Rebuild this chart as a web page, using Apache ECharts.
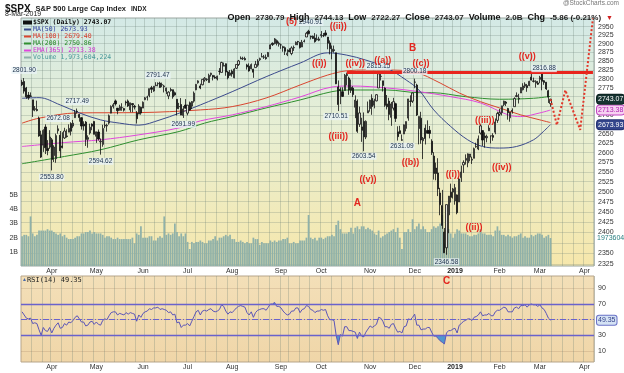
<!DOCTYPE html>
<html><head><meta charset="utf-8">
<script src="https://cdn.jsdelivr.net/npm/echarts@6/dist/echarts.min.js"></script>
<style>html,body{margin:0;padding:0;background:#fff}#c{width:624px;height:373px}</style>
</head><body><div id="c"></div>
<script>
// rows: [date, open, high, low, close, volume (billions), RSI(14)]
const mar18 = [
["2018-03-12",2790.5,2796.98,2779.26,2783.02,2.1,60],["2018-03-13",2792.3,2801.90,2758.68,2765.31,2.2,56],
["2018-03-14",2774.1,2777.11,2744.38,2749.48,2.2,52],["2018-03-15",2754.3,2763.03,2741.47,2747.33,2.1,51],
["2018-03-16",2750.6,2761.85,2749.97,2752.01,3.5,52],["2018-03-19",2741.4,2741.38,2694.59,2712.92,2.3,45],
["2018-03-20",2715.1,2724.22,2710.05,2716.94,2.1,46],["2018-03-21",2714.9,2739.14,2709.79,2711.93,2.2,45],
["2018-03-22",2691.4,2695.68,2641.59,2643.69,2.5,37],["2018-03-23",2646.7,2657.67,2585.89,2588.26,2.5,30],
["2018-03-26",2619.4,2661.36,2601.81,2658.55,2.5,40],["2018-03-27",2667.6,2674.78,2596.12,2612.62,2.5,36],
["2018-03-28",2611.3,2632.65,2593.06,2605.00,2.6,35],["2018-03-29",2614.4,2659.07,2609.72,2640.87,2.5,40]];
const apr18 = [
["2018-04-02",2633.5,2638.30,2553.80,2581.88,2.5,33],["2018-04-03",2592.2,2619.14,2575.49,2614.45,2.4,39],
["2018-04-04",2584.0,2649.86,2573.61,2644.69,2.3,43],["2018-04-05",2657.4,2672.08,2649.58,2662.84,2.2,46],
["2018-04-06",2645.8,2656.88,2586.27,2604.47,2.3,39],["2018-04-09",2617.2,2653.55,2610.79,2613.16,2.1,40],
["2018-04-10",2638.4,2665.45,2635.78,2656.87,2.2,45],["2018-04-11",2643.9,2661.43,2639.25,2642.19,2.0,43],
["2018-04-12",2653.8,2674.72,2653.83,2663.99,1.9,47],["2018-04-13",2676.9,2680.26,2645.05,2656.30,1.9,46],
["2018-04-16",2670.1,2686.49,2665.16,2677.84,1.9,49],["2018-04-17",2692.7,2713.34,2692.05,2706.39,2.0,53],
["2018-04-18",2710.1,2717.49,2703.63,2708.64,2.1,55],["2018-04-19",2701.2,2702.84,2681.90,2693.13,2.1,51],
["2018-04-20",2692.6,2693.94,2660.61,2670.14,2.3,47],["2018-04-23",2675.4,2682.86,2657.99,2670.29,2.3,47],
["2018-04-24",2680.8,2683.55,2617.32,2634.56,2.4,42],["2018-04-25",2634.9,2645.30,2612.67,2639.40,2.4,43],
["2018-04-26",2651.7,2676.48,2647.16,2666.94,2.5,47],["2018-04-27",2675.5,2677.35,2659.01,2669.91,2.3,48],
["2018-04-30",2682.5,2682.87,2648.04,2648.05,2.4,44]];
const may18 = [
["2018-05-01",2642.9,2655.27,2625.41,2654.80,2.3,47],["2018-05-02",2654.2,2660.87,2631.70,2635.67,2.3,44],
["2018-05-03",2628.1,2637.14,2594.62,2629.73,2.3,43],["2018-05-04",2621.4,2673.61,2615.32,2663.42,2.2,49],
["2018-05-07",2670.3,2683.35,2664.70,2672.63,2.0,51],["2018-05-08",2670.3,2676.34,2655.20,2671.92,2.1,50],
["2018-05-09",2678.1,2701.27,2674.14,2697.79,2.1,55],["2018-05-10",2705.0,2726.11,2704.54,2723.07,2.0,59],
["2018-05-11",2722.7,2732.86,2717.45,2727.72,1.9,60],["2018-05-14",2738.3,2742.10,2725.47,2730.13,1.9,60],
["2018-05-15",2718.6,2718.59,2701.91,2711.45,2.0,56],["2018-05-16",2712.6,2727.76,2712.17,2722.46,1.9,58],
["2018-05-17",2719.7,2731.96,2711.36,2720.13,1.9,57],["2018-05-18",2717.4,2719.50,2709.18,2712.97,1.9,56],
["2018-05-21",2735.4,2739.19,2725.70,2733.01,1.9,59],["2018-05-22",2738.3,2742.24,2721.88,2724.44,1.9,57],
["2018-05-23",2713.9,2733.33,2707.38,2733.29,1.9,59],["2018-05-24",2730.9,2731.97,2707.38,2727.76,2.0,58],
["2018-05-25",2723.6,2727.36,2714.99,2721.33,1.6,57],["2018-05-29",2705.1,2710.67,2676.81,2689.86,2.3,48],
["2018-05-30",2702.4,2729.34,2702.43,2724.01,2.2,56],["2018-05-31",2720.9,2722.50,2700.68,2705.27,2.8,53]];
const jun18 = [
["2018-06-01",2718.7,2736.93,2718.70,2734.62,2.0,58],["2018-06-04",2741.7,2749.16,2740.54,2746.87,2.0,60],
["2018-06-05",2748.5,2752.61,2739.51,2748.80,2.0,61],["2018-06-06",2753.3,2772.39,2748.46,2772.35,2.1,64],
["2018-06-07",2774.8,2779.90,2760.16,2770.37,2.1,63],["2018-06-08",2765.8,2779.39,2763.59,2779.03,1.8,65],
["2018-06-11",2780.2,2790.21,2779.26,2782.00,1.8,65],["2018-06-12",2785.6,2789.80,2778.78,2786.85,2.0,66],
["2018-06-13",2787.9,2791.47,2774.65,2775.63,2.1,63],["2018-06-14",2783.2,2789.06,2776.52,2782.49,2.0,64],
["2018-06-15",2777.8,2782.81,2761.73,2779.66,3.5,63],["2018-06-18",2765.8,2774.99,2757.12,2773.75,2.2,62],
["2018-06-19",2752.0,2765.05,2743.19,2762.59,2.3,59],["2018-06-20",2769.7,2774.86,2763.91,2767.32,2.2,60],
["2018-06-21",2769.3,2769.28,2744.39,2749.76,2.3,56],["2018-06-22",2760.8,2764.17,2752.68,2754.88,3.0,57],
["2018-06-25",2742.9,2742.94,2698.67,2717.07,2.4,46],["2018-06-26",2722.1,2732.91,2715.60,2723.06,2.1,47],
["2018-06-27",2728.5,2746.09,2699.38,2699.63,2.3,40],["2018-06-28",2698.7,2724.34,2691.99,2716.31,2.1,43],
["2018-06-29",2727.1,2743.26,2718.03,2718.37,2.3,43]];
const jul18 = [
["2018-07-02",2704.9,2727.26,2698.95,2726.71,1.7,45],["2018-07-03",2733.3,2736.58,2711.16,2713.22,1.2,42],
["2018-07-05",2724.2,2737.83,2716.02,2736.61,1.7,48],["2018-07-06",2737.7,2764.41,2733.52,2759.82,1.6,54],
["2018-07-09",2769.0,2784.65,2768.06,2784.17,1.7,60],["2018-07-10",2788.6,2795.58,2786.24,2793.84,1.7,62],
["2018-07-11",2779.8,2785.91,2770.77,2774.02,1.8,56],["2018-07-12",2783.1,2799.22,2781.53,2798.29,1.7,61],
["2018-07-13",2796.9,2804.53,2791.69,2801.31,1.6,62],["2018-07-16",2797.4,2801.19,2793.39,2798.43,1.6,61],
["2018-07-17",2789.3,2814.19,2789.24,2809.55,1.8,63],["2018-07-18",2811.4,2816.76,2805.89,2815.62,1.8,64],
["2018-07-19",2809.4,2810.47,2795.14,2804.49,1.9,61],["2018-07-20",2804.6,2809.70,2800.01,2801.83,2.1,60],
["2018-07-23",2799.2,2808.61,2795.14,2806.98,1.8,61],["2018-07-24",2820.7,2829.99,2811.12,2820.40,2.0,63],
["2018-07-25",2817.7,2848.03,2817.73,2846.07,2.0,69],["2018-07-26",2835.5,2845.57,2835.26,2837.44,2.1,67],
["2018-07-27",2842.4,2843.17,2808.34,2818.82,2.2,61],["2018-07-30",2819.0,2821.74,2798.11,2802.60,2.1,57],
["2018-07-31",2809.7,2824.46,2808.06,2816.29,2.2,60]];
const aug18 = [
["2018-08-01",2821.2,2825.83,2805.85,2813.36,1.9,59],["2018-08-02",2802.6,2829.91,2801.35,2827.22,1.9,62],
["2018-08-03",2829.6,2840.38,2827.37,2840.35,1.7,65],["2018-08-06",2840.3,2853.29,2835.98,2850.40,1.7,67],
["2018-08-07",2855.9,2863.43,2855.92,2858.45,1.8,68],["2018-08-08",2856.8,2862.44,2853.09,2857.70,1.7,67],
["2018-08-09",2857.2,2862.48,2851.98,2853.58,1.6,66],["2018-08-10",2838.9,2842.20,2825.81,2833.28,1.7,59],
["2018-08-13",2835.5,2843.40,2819.88,2821.93,1.6,56],["2018-08-14",2827.9,2843.11,2826.58,2839.96,1.6,60],
["2018-08-15",2827.0,2827.95,2802.49,2818.37,2.0,53],["2018-08-16",2831.4,2850.49,2831.44,2840.69,1.9,59],
["2018-08-17",2838.3,2855.63,2833.73,2850.13,1.9,62],["2018-08-20",2853.9,2859.76,2850.62,2857.05,1.5,63],
["2018-08-21",2861.5,2873.23,2861.32,2862.96,1.7,64],["2018-08-22",2860.9,2867.54,2856.05,2861.82,1.6,64],
["2018-08-23",2860.3,2868.78,2854.03,2856.98,1.6,62],["2018-08-24",2862.4,2876.16,2862.35,2874.69,1.6,66],
["2018-08-27",2884.7,2898.25,2884.69,2896.74,1.8,70],["2018-08-28",2901.5,2903.77,2893.50,2897.52,1.7,70],
["2018-08-29",2900.6,2916.50,2898.40,2914.04,1.8,72],["2018-08-30",2908.9,2912.46,2895.22,2901.13,1.7,67],
["2018-08-31",2898.4,2906.32,2891.73,2901.52,1.8,67]];
const sep18 = [
["2018-09-04",2896.5,2900.18,2885.13,2896.72,1.8,65],["2018-09-05",2891.6,2894.21,2876.92,2888.60,1.9,61],
["2018-09-06",2888.6,2892.05,2867.29,2878.05,1.9,58],["2018-09-07",2868.3,2883.81,2864.12,2871.68,2.0,56],
["2018-09-10",2881.4,2886.93,2875.94,2877.13,1.6,57],["2018-09-11",2871.6,2892.52,2866.78,2887.89,1.6,61],
["2018-09-12",2888.3,2894.65,2879.20,2888.92,1.7,61],["2018-09-13",2896.9,2906.76,2896.39,2904.18,1.6,65],
["2018-09-14",2906.4,2908.30,2895.77,2904.98,1.6,65],["2018-09-17",2903.8,2904.65,2886.16,2888.80,1.8,59],
["2018-09-18",2890.7,2911.17,2890.43,2904.31,1.8,63],["2018-09-19",2906.6,2912.36,2903.82,2907.95,1.8,64],
["2018-09-20",2919.7,2934.80,2919.73,2930.75,2.0,68],["2018-09-21",2936.8,2940.91,2927.11,2929.67,3.6,67],
["2018-09-24",2921.8,2923.79,2912.63,2919.37,2.0,63],["2018-09-25",2921.8,2923.95,2913.70,2915.56,1.9,62],
["2018-09-26",2916.9,2931.15,2903.28,2905.97,2.0,59],["2018-09-27",2911.7,2927.22,2909.27,2914.00,1.8,61],
["2018-09-28",2910.0,2920.53,2907.50,2913.98,2.0,61]];
const oct18 = [
["2018-10-01",2926.3,2937.06,2917.91,2924.59,2.0,63],["2018-10-02",2923.8,2931.42,2919.37,2923.43,1.9,62],
["2018-10-03",2931.7,2939.86,2921.36,2925.51,2.0,63],["2018-10-04",2919.4,2919.78,2883.92,2901.61,2.1,55],
["2018-10-05",2902.5,2909.64,2869.29,2885.57,2.1,50],["2018-10-08",2877.5,2894.83,2855.04,2884.43,2.2,50],
["2018-10-09",2882.5,2894.70,2874.27,2880.34,2.1,49],["2018-10-10",2873.9,2874.02,2784.86,2785.68,2.9,30],
["2018-10-11",2776.9,2795.14,2710.51,2728.37,3.2,18],["2018-10-12",2770.5,2775.77,2729.44,2767.13,2.6,31],
["2018-10-15",2763.8,2775.99,2749.03,2750.79,2.3,29],["2018-10-16",2767.1,2813.46,2766.91,2809.92,2.3,41],
["2018-10-17",2811.7,2816.94,2781.81,2809.21,2.3,41],["2018-10-18",2802.0,2806.04,2755.18,2768.78,2.4,36],
["2018-10-19",2775.7,2797.77,2760.27,2767.78,2.7,36],["2018-10-22",2773.9,2778.94,2749.22,2755.88,2.3,35],
["2018-10-23",2721.0,2753.59,2691.43,2740.69,2.7,34],["2018-10-24",2737.9,2742.59,2651.89,2656.10,2.8,26],
["2018-10-25",2674.9,2722.70,2667.84,2705.57,2.6,34],["2018-10-26",2667.9,2692.38,2628.16,2658.69,2.8,29],
["2018-10-29",2682.7,2706.85,2603.54,2641.25,2.8,28],["2018-10-30",2640.7,2685.43,2635.34,2682.63,2.6,34],
["2018-10-31",2705.6,2736.69,2705.60,2711.74,2.7,38]];
const nov18 = [
["2018-11-01",2717.6,2741.67,2708.85,2740.37,2.6,42],["2018-11-02",2745.5,2756.55,2700.44,2723.06,2.5,40],
["2018-11-05",2726.4,2744.27,2717.94,2738.31,2.3,42],["2018-11-06",2738.4,2756.82,2737.08,2755.45,2.2,44],
["2018-11-07",2774.1,2815.15,2774.13,2813.89,2.5,53],["2018-11-08",2806.4,2814.75,2794.99,2806.83,2.0,52],
["2018-11-09",2794.1,2794.10,2764.24,2781.01,2.1,48],["2018-11-12",2773.9,2775.99,2722.00,2726.22,2.2,41],
["2018-11-13",2730.1,2754.60,2714.98,2722.18,2.3,41],["2018-11-14",2737.9,2746.80,2685.75,2701.58,2.4,39],
["2018-11-15",2693.5,2735.38,2670.75,2730.20,2.5,44],["2018-11-16",2718.5,2746.75,2712.16,2736.27,2.6,45],
["2018-11-19",2730.7,2733.16,2681.09,2690.73,2.4,39],["2018-11-20",2654.6,2669.44,2631.52,2641.89,2.7,34],
["2018-11-21",2657.7,2670.73,2649.82,2649.93,2.0,35],["2018-11-23",2633.4,2647.55,2631.09,2632.56,1.2,33],
["2018-11-26",2649.0,2674.35,2649.00,2673.45,2.4,41],["2018-11-27",2663.8,2682.53,2655.89,2682.17,2.4,42],
["2018-11-28",2691.5,2744.00,2684.38,2743.79,2.6,51],["2018-11-29",2736.9,2753.75,2722.94,2737.80,2.4,50],
["2018-11-30",2737.8,2760.88,2732.76,2760.17,3.3,53]];
const dec18 = [
["2018-12-03",2790.5,2800.18,2773.38,2790.37,2.6,57],["2018-12-04",2782.4,2785.93,2697.18,2700.06,2.8,43],
["2018-12-06",2663.5,2696.15,2621.53,2695.95,3.0,43],["2018-12-07",2691.3,2708.54,2623.14,2633.08,2.6,37],
["2018-12-10",2630.9,2640.99,2583.23,2637.72,2.8,38],["2018-12-11",2664.4,2674.35,2621.30,2636.78,2.6,38],
["2018-12-12",2658.2,2685.44,2650.26,2651.07,2.4,40],["2018-12-13",2658.7,2670.19,2637.27,2650.54,2.4,40],
["2018-12-14",2629.7,2635.07,2593.84,2599.95,2.6,34],["2018-12-17",2590.8,2601.13,2530.54,2545.94,2.8,29],
["2018-12-18",2559.9,2573.99,2528.71,2546.16,2.7,29],["2018-12-19",2547.1,2585.29,2488.96,2506.96,2.8,26],
["2018-12-20",2496.8,2509.63,2441.53,2467.42,3.0,23],["2018-12-21",2465.4,2504.41,2408.55,2416.62,3.6,21],
["2018-12-24",2400.6,2410.34,2351.10,2351.10,1.6,19],["2018-12-26",2363.1,2467.76,2346.58,2467.70,2.6,33],
["2018-12-27",2442.5,2489.10,2397.94,2488.83,2.6,36],["2018-12-28",2498.8,2520.27,2472.89,2485.74,2.3,36],
["2018-12-31",2498.9,2509.24,2482.82,2506.85,2.0,38]];
const jan19 = [
["2019-01-02",2476.9,2519.49,2467.47,2510.03,2.3,39],["2019-01-03",2491.9,2493.14,2443.96,2447.89,2.6,33],
["2019-01-04",2474.3,2538.07,2474.33,2531.94,2.5,43],["2019-01-07",2535.6,2566.16,2524.56,2549.69,2.3,45],
["2019-01-08",2568.1,2579.82,2547.56,2574.41,2.3,48],["2019-01-09",2580.0,2595.32,2568.89,2584.96,2.3,49],
["2019-01-10",2573.5,2597.82,2562.02,2596.64,2.2,51],["2019-01-11",2588.1,2596.27,2577.40,2596.26,2.1,51],
["2019-01-14",2580.3,2589.32,2570.41,2582.61,2.1,49],["2019-01-15",2585.1,2613.08,2585.10,2610.30,2.2,53],
["2019-01-16",2614.8,2625.76,2612.68,2616.10,2.2,54],["2019-01-17",2609.3,2645.06,2606.36,2635.96,2.3,56],
["2019-01-18",2651.3,2675.47,2647.58,2670.71,2.6,60],["2019-01-22",2657.9,2657.88,2617.27,2632.90,2.3,55],
["2019-01-23",2643.5,2653.19,2612.86,2638.70,2.3,56],["2019-01-24",2638.8,2647.20,2627.01,2642.33,2.2,56],
["2019-01-25",2657.4,2672.38,2657.33,2664.76,2.2,58],["2019-01-28",2644.0,2644.00,2624.06,2643.85,2.2,55],
["2019-01-29",2644.9,2650.93,2631.05,2640.00,2.1,55],["2019-01-30",2653.6,2690.44,2648.34,2681.05,2.5,60],
["2019-01-31",2685.5,2708.95,2678.65,2704.10,2.8,62]];
const feb19 = [
["2019-02-01",2702.3,2716.66,2696.88,2706.53,2.5,62],["2019-02-04",2706.5,2724.99,2698.75,2724.87,2.2,64],
["2019-02-05",2728.3,2738.98,2724.03,2737.70,2.2,66],["2019-02-06",2735.1,2738.08,2724.15,2731.61,2.1,65],
["2019-02-07",2717.5,2719.32,2687.26,2706.05,2.2,60],["2019-02-08",2692.4,2708.07,2681.83,2707.88,2.1,60],
["2019-02-11",2712.4,2718.05,2703.79,2709.80,2.0,60],["2019-02-12",2722.6,2748.19,2722.61,2744.73,2.1,65],
["2019-02-13",2750.3,2761.85,2748.63,2753.03,2.1,66],["2019-02-14",2743.5,2757.90,2731.23,2745.73,2.2,64],
["2019-02-15",2760.2,2775.66,2760.24,2775.60,2.3,68],["2019-02-19",2769.3,2787.33,2767.29,2779.76,2.0,68],
["2019-02-20",2779.1,2789.88,2774.06,2784.70,2.1,69],["2019-02-21",2780.7,2785.42,2763.47,2774.88,2.0,66],
["2019-02-22",2780.7,2794.20,2779.11,2792.67,2.0,69],["2019-02-25",2804.4,2813.49,2794.99,2796.11,2.2,70],
["2019-02-26",2792.4,2803.12,2789.47,2793.90,2.1,69],["2019-02-27",2787.5,2795.76,2775.13,2792.38,2.2,69],
["2019-02-28",2788.1,2793.73,2782.51,2784.49,2.3,67]];
const mar19 = [
["2019-03-01",2798.2,2808.02,2787.38,2803.69,2.3,69],["2019-03-04",2814.4,2816.88,2767.66,2792.81,2.2,65],
["2019-03-05",2794.4,2796.44,2782.97,2789.65,2.0,63],["2019-03-06",2790.3,2790.27,2768.69,2771.45,2.1,58],
["2019-03-07",2766.5,2768.98,2732.77,2748.93,2.2,52],["2019-03-08",2730.79,2744.13,2722.27,2743.07,1.973604,49.35]];
const futureDates = ["2019-03-11","2019-03-12","2019-03-13","2019-03-14","2019-03-15","2019-03-18","2019-03-19",
"2019-03-20","2019-03-21","2019-03-22","2019-03-25","2019-03-26","2019-03-27","2019-03-28","2019-03-29",
"2019-04-01","2019-04-02","2019-04-03","2019-04-04","2019-04-05"];

// moving averages: [date, value]
const ma50 = [["2018-03-12",2745.6],["2018-03-22",2747.3],["2018-04-06",2727.3],["2018-04-19",2705.6],["2018-05-03",2686.7],
["2018-05-16",2677.9],["2018-05-30",2672.5],["2018-06-13",2686.7],["2018-06-26",2704.8],["2018-07-11",2727.3],
["2018-08-01",2763.8],["2018-08-23",2805.6],["2018-09-17",2844.3],["2018-10-04",2873.7],["2018-10-17",2867.1],
["2018-10-30",2852.8],["2018-11-13",2830.1],["2018-11-27",2796.3],["2018-12-06",2768.5],["2018-12-17",2713.7],
["2018-12-28",2668.8],["2019-01-10",2633.5],["2019-01-22",2615.9],["2019-02-01",2611.8],["2019-02-13",2615.9],
["2019-02-26",2633.5],["2019-03-04",2652.0],["2019-03-08",2673.93]];
const ma100 = [["2018-03-12",2677.9],["2018-03-22",2691.3],["2018-04-18",2705.6],["2018-05-30",2706.4],["2018-07-11",2713.7],
["2018-08-01",2722.7],["2018-08-23",2746.4],["2018-09-17",2782.4],["2018-10-04",2810.3],["2018-10-17",2822.4],
["2018-10-30",2824.4],["2018-11-13",2824.4],["2018-12-03",2818.8],["2018-12-20",2788.0],["2019-01-04",2760.2],
["2019-01-18",2736.3],["2019-02-01",2719.1],["2019-02-15",2700.2],["2019-03-01",2686.7],["2019-03-08",2679.40]];
const ma200 = [["2018-03-12",2571.0],["2018-04-10",2589.9],["2018-05-03",2607.3],["2018-05-30",2633.5],["2018-06-26",2655.5],
["2018-07-13",2678.0],["2018-08-01",2695.6],["2018-08-23",2719.1],["2018-09-17",2741.0],["2018-10-08",2763.8],
["2018-10-19",2768.5],["2018-11-13",2768.5],["2018-12-06",2761.1],["2018-12-14",2761.1],["2019-01-09",2750.0],
["2019-02-01",2742.9],["2019-02-26",2745.6],["2019-03-08",2750.86]];
const ema365 = [["2018-03-12",2615.9],["2018-04-10",2626.4],["2018-05-03",2633.5],["2018-05-30",2646.7],["2018-06-26",2665.3],
["2018-07-11",2684.0],["2018-08-01",2700.2],["2018-08-23",2722.7],["2018-09-17",2749.2],["2018-10-08",2776.8],
["2018-10-19",2779.6],["2018-11-13",2774.1],["2018-12-06",2763.8],["2018-12-28",2750.0],["2019-01-18",2732.8],
["2019-02-07",2700.2],["2019-02-15",2695.6],["2019-03-01",2705.6],["2019-03-08",2713.38]];
// dotted projection drawn on the chart
const projection = [["2019-03-08",2743.07],["2019-03-13",2673],["2019-03-19",2768],["2019-03-28",2660],["2019-04-05",2975]];
const resistance = [["2018-10-17",2819],["2019-04-05",2819]];
// value labels and wave labels: [date, price, text]
const valueNotes = [["2018-03-13",2822,"2801.90"],["2018-04-05",2689,"2672.08"],["2018-04-18",2735,"2717.49"],
["2018-04-02",2535,"2553.80"],["2018-05-03",2576,"2594.62"],["2018-06-12",2808,"2791.47"],["2018-06-28",2673,"2691.99"],
["2018-09-24",2961,"2940.91"],["2018-10-10",2694,"2710.51"],["2018-10-29",2589,"2603.54"],["2018-11-07",2833,"2815.15"],
["2018-11-23",2615,"2631.09"],["2018-12-03",2819,"2800.18"],["2018-12-26",2329,"2346.58"],["2019-03-05",2827,"2816.88"]];
const waveNotes = [["2018-09-11",2964,"(5)"],["2018-10-11",2949,"((ii))"],["2018-09-28",2842,"((i))"],["2018-10-23",2842,"((iv))"],
["2018-11-09",2850,"((a))"],["2018-11-30",2885,"B"],["2018-12-07",2842,"((c))"],["2018-10-11",2641,"((iii))"],
["2018-10-31",2530,"((v))"],["2018-10-24",2470,"A"],["2018-11-29",2573,"((b))"],["2018-12-31",2543,"((i))"],
["2019-01-23",2684,"((iii))"],["2019-02-04",2560,"((iv))"],["2019-01-15",2410,"((ii))"],["2019-02-21",2862,"((v))"]];
const rsiNotes = [["2018-12-26",98,"C"]];
const priceTicks = [2325,2350,2375,2400,2425,2450,2475,2500,2525,2550,2575,2600,2625,2650,2675,2700,2725,2750,2775,2800,2825,2850,2875,2900,2925,2950];
const priceLabels = [2325,2350,2400,2425,2450,2475,2500,2525,2550,2575,2600,2625,2650,2700,2775,2800,2825,2850,2875,2900,2925,2950];
const volTicks = [1,2,3,4,5];
const rsiTicks = [10,30,50,70,90];
const rsiLabels = [10,30,70,90];
const lastClose = 2743.07, lastMA50 = 2673.93, lastMA100 = 2679.40, lastMA200 = 2750.86, lastEMA = 2713.38, lastRSI = 49.35;
const lastVolume = "1,973,604,224";

const rows = [].concat(mar18, apr18, may18, jun18, jul18, aug18, sep18, oct18, nov18, dec18, jan19, feb19, mar19);
const dates = rows.map(r => r[0]).concat(futureDates);
const candleData = rows.map(r => [r[1], r[4], r[3], r[2]]);
const volData = rows.map(r => r[5]);
const rsiData = rows.map(r => [r[0], r[6]]);

const dow = d => new Date(d + 'T00:00:00Z').getUTCDay();
const monthStart = dates.map((d, i) => i > 0 && d.slice(0, 7) !== dates[i - 1].slice(0, 7));
const weekStart = dates.map((d, i) => i > 0 && dow(d) < dow(dates[i - 1]));
const MN = ['Jan','Feb','Mar','Apr','May','Jun','Jul','Aug','Sep','Oct','Nov','Dec'];
const monthFmt = v => v.slice(5, 7) === '01' ? '{y|' + v.slice(0, 4) + '}' : MN[+v.slice(5, 7) - 1];
const FONT = 'Liberation Sans';

function xAxisFor(g, showLabels) {
  return {
    type: 'category', gridIndex: g, data: dates, boundaryGap: true,
    axisLine: {show: false}, axisTick: {show: false},
    axisLabel: {show: showLabels, interval: i => monthStart[i], formatter: monthFmt, fontSize: 7, color: '#333',
      margin: 2, fontFamily: FONT, rich: {y: {fontSize: 7, fontWeight: 'bold', color: '#222', fontFamily: FONT}}},
    splitLine: {show: g !== 1, interval: i => weekStart[i], lineStyle: {color: 'rgba(105,125,115,0.28)', width: 1}}
  };
}
const valueLabel = {show: true, position: 'inside', fontSize: 6.5, color: '#1b2f4a', fontFamily: FONT,
  backgroundColor: 'rgba(232,242,246,0.8)', padding: [0, 1]};
const waveLabel = t => ({show: true, position: 'inside', fontSize: (t.length === 1 ? 10 : 9), fontWeight: 'bold',
  color: '#e3261f', fontFamily: FONT});
const notePoint = (n, lab) => ({coord: [n[0], n[1]], symbolSize: 1, itemStyle: {color: 'rgba(0,0,0,0)'},
  label: Object.assign({}, lab, {formatter: n[2]})});
const boxLine = (val, text, bg, fg, border) => ({yAxis: val, lineStyle: {color: 'rgba(0,0,0,0)', width: 0},
  label: {show: true, position: 'end', distance: 3, formatter: text, backgroundColor: bg, color: fg, borderColor: border,
    borderWidth: 1, borderRadius: 3, padding: [1, 1], fontSize: 7, fontFamily: FONT}});

const legendNames = {'$SPX (Daily)': lastClose.toFixed(2), 'MA(50)': lastMA50.toFixed(2), 'MA(100)': lastMA100.toFixed(2),
  'MA(200)': lastMA200.toFixed(2), 'EMA(365)': lastEMA.toFixed(2), 'Volume': lastVolume};

const chart = echarts.init(document.getElementById('c'), null, {renderer: 'canvas'});
chart.setOption({
  animation: false,
  backgroundColor: '#ffffff',
  title: [
    {left: 5, top: 0, padding: 0, text: '{a|$SPX} {b|S&P 500 Large Cap Index} {c|INDX}',
      textStyle: {rich: {a: {fontSize: 10, fontWeight: 'bold', color: '#111', fontFamily: FONT},
        b: {fontSize: 7.5, color: '#222', fontFamily: FONT}, c: {fontSize: 6.5, color: '#222', fontFamily: FONT}}}},
    {left: 5, top: 11, padding: 0, text: '8-Mar-2019', textStyle: {fontSize: 7, fontWeight: 'normal', color: '#222', fontFamily: FONT}},
    {right: 11, top: 9, padding: 0,
      text: '{l|Open} {v|2730.79} {l|High} {v|2744.13} {l|Low} {v|2722.27} {l|Close} {v|2743.07} {l|Volume} {v|2.0B} {l|Chg} {v|-5.86 (-0.21%)} {r|▼}',
      textStyle: {rich: {l: {fontSize: 9, fontWeight: 'bold', color: '#111', fontFamily: FONT},
        v: {fontSize: 8, color: '#222', fontFamily: FONT}, r: {fontSize: 7, color: '#d02020'}}}},
    {right: 5, top: 0, padding: 0, text: '@StockCharts.com', textStyle: {fontSize: 6.5, fontWeight: 'normal', color: '#777', fontFamily: FONT}}
  ],
  legend: {
    left: 23, top: 19, orient: 'vertical', itemGap: 0, itemWidth: 7, itemHeight: 2, icon: 'rect', selectedMode: false,
    padding: 0, textStyle: {fontSize: 6.5, fontFamily: 'DejaVu Sans Mono', lineHeight: 7, padding: [0, 0, 0, -3]},
    formatter: n => n + ' ' + legendNames[n],
    data: [
      {name: '$SPX (Daily)', itemStyle: {color: '#111'}, textStyle: {color: '#111', fontWeight: 'bold'}},
      {name: 'MA(50)', textStyle: {color: '#2f3f9f'}},
      {name: 'MA(100)', textStyle: {color: '#d83a2a'}},
      {name: 'MA(200)', textStyle: {color: '#2a8a2a'}},
      {name: 'EMA(365)', textStyle: {color: '#d030d0'}},
      {name: 'Volume', itemStyle: {color: '#8fb1a9'}, textStyle: {color: '#4a9a9a'}}
    ]
  },
  grid: [
    {left: 21, right: 30, top: 18, bottom: 107, show: true, borderColor: '#9aa6a0', borderWidth: 1,
      backgroundColor: new echarts.graphic.LinearGradient(0, 0, 0, 1, [
        {offset: 0, color: '#d3e9e6'}, {offset: 0.45, color: '#e8efd3'}, {offset: 1, color: '#f6e7ab'}])},
    {left: 21, right: 30, top: 181, bottom: 107},
    {left: 21, right: 30, top: 276, bottom: 11, show: true, borderColor: '#b7a58a', borderWidth: 1,
      backgroundColor: new echarts.graphic.LinearGradient(0, 0, 0, 1, [
        {offset: 0, color: '#f3dfb8'}, {offset: 1, color: '#f0d6a8'}])}
  ],
  xAxis: [xAxisFor(0, true), xAxisFor(1, false), xAxisFor(2, true)],
  yAxis: [
    {type: 'log', logBase: 10, gridIndex: 0, position: 'right', min: 2320.3, max: 2975.9,
      axisLine: {show: false}, axisTick: {show: false, customValues: priceTicks},
      axisLabel: {customValues: priceLabels, fontSize: 7, color: '#333', margin: 4, fontFamily: FONT, formatter: v => String(v)},
      splitLine: {show: true, lineStyle: {color: 'rgba(105,125,115,0.25)', width: 1}}},
    {type: 'value', gridIndex: 1, position: 'left', min: 0, max: 6,
      axisLine: {show: false}, axisTick: {show: false, customValues: volTicks},
      axisLabel: {customValues: volTicks, fontSize: 7, color: '#333', margin: 3, fontFamily: FONT, formatter: v => v + 'B'},
      splitLine: {show: false}},
    {type: 'value', gridIndex: 2, position: 'right', min: -4.1, max: 105.8,
      axisLine: {show: false}, axisTick: {show: false, customValues: rsiTicks},
      axisLabel: {customValues: rsiLabels, fontSize: 7, color: '#333', margin: 4, fontFamily: FONT},
      splitLine: {show: true, lineStyle: {color: 'rgba(150,120,90,0.22)', width: 1}}}
  ],
  visualMap: [
    {show: false, type: 'piecewise', seriesIndex: 8, dimension: 1,
      pieces: [{min: -10, max: 30, color: '#3f8fd2'}, {min: 30, max: 110, color: 'rgba(63,143,210,0)'}]},
    {show: false, type: 'piecewise', seriesIndex: 9, dimension: 1,
      pieces: [{min: 70, max: 110, color: '#3f8fd2'}, {min: -10, max: 70, color: 'rgba(63,143,210,0)'}]}
  ],
  series: [
    {name: 'Volume', type: 'bar', xAxisIndex: 1, yAxisIndex: 1, data: volData, barWidth: '82%', z: 1,
      itemStyle: {color: '#8fb1a9'}, silent: true,
      markLine: {symbol: ['none', 'none'], silent: true, data: [
        {yAxis: lastVolume.replace(/,/g, '') / 1e9, lineStyle: {color: 'rgba(0,0,0,0)', width: 0},
          label: {show: true, position: 'end', distance: 3, formatter: '1973604', color: '#2a7f80', fontSize: 7, fontFamily: FONT}}]}},
    {name: 'MA(200)', type: 'line', xAxisIndex: 0, yAxisIndex: 0, data: ma200, smooth: 0.35, symbol: 'none', z: 3,
      lineStyle: {color: '#2f8f2f', width: 1}, itemStyle: {color: '#2f8f2f'}},
    {name: 'EMA(365)', type: 'line', xAxisIndex: 0, yAxisIndex: 0, data: ema365, smooth: 0.35, symbol: 'none', z: 3,
      lineStyle: {color: '#e048dc', width: 1}, itemStyle: {color: '#e048dc'},
      markLine: {symbol: ['none', 'none'], silent: true, data: [boxLine(lastEMA, lastEMA.toFixed(2), '#f6d2f2', '#b020b0', '#c040c0')]}},
    {name: 'MA(100)', type: 'line', xAxisIndex: 0, yAxisIndex: 0, data: ma100, smooth: 0.35, symbol: 'none', z: 3,
      lineStyle: {color: '#d9452f', width: 1}, itemStyle: {color: '#d9452f'}},
    {name: 'MA(50)', type: 'line', xAxisIndex: 0, yAxisIndex: 0, data: ma50, smooth: 0.35, symbol: 'none', z: 3,
      lineStyle: {color: '#3b4a8c', width: 1}, itemStyle: {color: '#3b4a8c'},
      markLine: {symbol: ['none', 'none'], silent: true, data: [boxLine(lastMA50, lastMA50.toFixed(2), '#34468c', '#ffffff', '#223070')]}},
    {name: '$SPX (Daily)', type: 'candlestick', xAxisIndex: 0, yAxisIndex: 0, data: candleData, barWidth: 1.7, z: 4,
      itemStyle: {color: '#e4e4dc', color0: '#111111', borderColor: '#111111', borderColor0: '#111111', borderWidth: 0.8},
      markLine: {symbol: ['none', 'none'], silent: true, data: [
        [{coord: resistance[0], lineStyle: {color: '#e8241c', width: 3, type: 'solid'}, label: {show: false}}, {coord: resistance[1]}],
        boxLine(lastClose, lastClose.toFixed(2), '#163432', '#ffffff', '#0c2220')]},
      markPoint: {silent: true, data: valueNotes.map(n => notePoint(n, valueLabel)).concat(waveNotes.map(n => notePoint(n, waveLabel(n[2]))))}},
    {name: 'projection', type: 'line', xAxisIndex: 0, yAxisIndex: 0, data: projection, symbol: 'none', z: 5,
      lineStyle: {color: '#e2382a', width: 2, type: [2, 2]}},
    {name: 'RSI(14)', type: 'line', xAxisIndex: 2, yAxisIndex: 2, data: rsiData, symbol: 'none', z: 4,
      lineStyle: {color: '#5a55b8', width: 1}, itemStyle: {color: '#5a55b8'},
      markLine: {symbol: ['none', 'none'], silent: true, data: [
        {yAxis: 70, lineStyle: {color: '#6a62cc', width: 1.3, type: 'solid'}, label: {show: false}},
        {yAxis: 30, lineStyle: {color: '#6a62cc', width: 1.3, type: 'solid'}, label: {show: false}},
        {yAxis: 50, lineStyle: {color: '#6a62cc', width: 1, type: [6, 2, 1, 2]}, label: {show: false}},
        {yAxis: lastRSI, lineStyle: {color: 'rgba(0,0,0,0)', width: 0},
          label: {show: true, position: 'end', distance: 3, formatter: lastRSI.toFixed(2), backgroundColor: '#d4e2f4',
            color: '#34408a', borderColor: '#6a72c8', borderWidth: 1, borderRadius: 2, padding: [1, 1], fontSize: 7, fontFamily: FONT}}]},
      markPoint: {silent: true, data: rsiNotes.map(n => notePoint(n, waveLabel(n[2])))}},
    {name: 'rsiLow', type: 'line', xAxisIndex: 2, yAxisIndex: 2, data: rsiData, symbol: 'none', z: 3,
      lineStyle: {width: 0}, areaStyle: {origin: 30, opacity: 0.9}, silent: true},
    {name: 'rsiHigh', type: 'line', xAxisIndex: 2, yAxisIndex: 2, data: rsiData, symbol: 'none', z: 3,
      lineStyle: {width: 0}, areaStyle: {origin: 70, opacity: 0.9}, silent: true}
  ],
  graphic: [
    {type: 'text', left: 27, top: 277, style: {text: 'RSI(14) ' + lastRSI.toFixed(2), fontSize: 7, fontFamily: 'DejaVu Sans Mono', fill: '#222'}},
    {type: 'text', left: 22, top: 277, style: {text: '▲', fontSize: 5, fill: '#4a6aa8'}}
  ]
});
</script></body></html>
